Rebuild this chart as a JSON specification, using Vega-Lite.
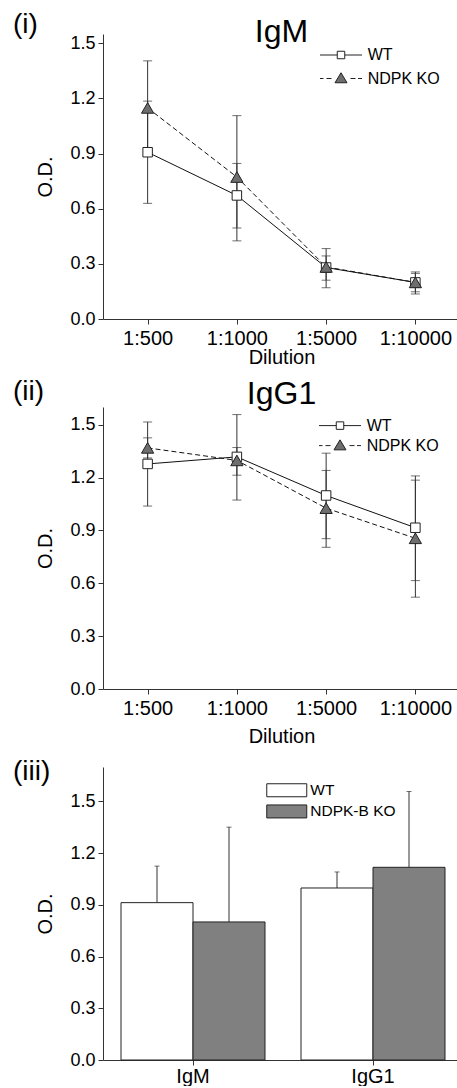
{
  "$schema": "https://vega.github.io/schema/vega-lite/v6.json",
  "padding": {"left": 12, "top": 11, "right": 0, "bottom": 0},
  "spacing": 12,
  "background": "white",
  "resolve": {"scale": {"fill": "independent", "stroke": "independent"}, "legend": {"fill": "independent", "stroke": "independent"}},
  "config": {
    "font": "Liberation Sans",
    "view": {"stroke": null},
    "axis": {"grid": false, "domainColor": "#333", "tickColor": "#333", "labelColor": "black", "titleColor": "black", "labelFont": "Liberation Sans", "titleFont": "Liberation Sans", "titleFontWeight": "normal", "labelFontSize": 18, "titleFontSize": 20},
    "title": {"font": "Liberation Sans", "fontWeight": "normal", "color": "black"},
    "legend": {"labelFont": "Liberation Sans", "labelColor": "black"}
  },
  "datasets": {
    "igm": [
      {"group": "WT", "dilution": "1:500", "od": 0.907, "lo": 0.629, "hi": 1.185},
      {"group": "WT", "dilution": "1:1000", "od": 0.672, "lo": 0.495, "hi": 0.846},
      {"group": "WT", "dilution": "1:5000", "od": 0.28, "lo": 0.211, "hi": 0.343},
      {"group": "WT", "dilution": "1:10000", "od": 0.199, "lo": 0.148, "hi": 0.248},
      {"group": "NDPK KO", "dilution": "1:500", "od": 1.148, "lo": 0.892, "hi": 1.404},
      {"group": "NDPK KO", "dilution": "1:1000", "od": 0.772, "lo": 0.425, "hi": 1.106},
      {"group": "NDPK KO", "dilution": "1:5000", "od": 0.283, "lo": 0.17, "hi": 0.383},
      {"group": "NDPK KO", "dilution": "1:10000", "od": 0.199, "lo": 0.136, "hi": 0.256}
    ],
    "igg1": [
      {"group": "WT", "dilution": "1:500", "od": 1.277, "lo": 1.038, "hi": 1.515},
      {"group": "WT", "dilution": "1:1000", "od": 1.317, "lo": 1.072, "hi": 1.557},
      {"group": "WT", "dilution": "1:5000", "od": 1.098, "lo": 0.853, "hi": 1.338},
      {"group": "WT", "dilution": "1:10000", "od": 0.915, "lo": 0.615, "hi": 1.209},
      {"group": "NDPK KO", "dilution": "1:500", "od": 1.368, "lo": 1.311, "hi": 1.425},
      {"group": "NDPK KO", "dilution": "1:1000", "od": 1.297, "lo": 1.213, "hi": 1.37},
      {"group": "NDPK KO", "dilution": "1:5000", "od": 1.026, "lo": 0.804, "hi": 1.24},
      {"group": "NDPK KO", "dilution": "1:10000", "od": 0.855, "lo": 0.521, "hi": 1.185}
    ],
    "bars": [
      {"isotype": "IgM", "group": "WT", "od": 0.913, "hi": 1.125},
      {"isotype": "IgM", "group": "NDPK-B KO", "od": 0.801, "hi": 1.351},
      {"isotype": "IgG1", "group": "WT", "od": 0.998, "hi": 1.091},
      {"isotype": "IgG1", "group": "NDPK-B KO", "od": 1.118, "hi": 1.558}
    ]
  },
  "vconcat": [
    {
      "spacing": 11,
      "resolve": {"scale": {"fill": "independent", "stroke": "independent"}, "legend": {"fill": "independent", "stroke": "independent"}},
      "vconcat": [
        {
          "title": {"text": "(i)", "fontSize": 28, "anchor": "start", "frame": "bounds", "dx": -23, "offset": -23},
          "vconcat": [
            {
              "width": 357, "height": 285,
              "title": {"text": "IgM", "fontSize": 32, "anchor": "middle", "offset": -15},
              "data": {"name": "igm"},
              "encoding": {
                "x": {"field": "dilution", "type": "ordinal", "sort": ["1:500", "1:1000", "1:5000", "1:10000"], "scale": {"type": "point", "padding": 0.5},
                      "axis": {"title": "Dilution", "labelAngle": 0, "labelFontSize": 20, "titleFontSize": 20, "tickSize": 5, "labelPadding": 4, "titlePadding": -1}}
              },
              "layer": [
                {
                  "mark": {"type": "errorbar", "ticks": {"size": 9, "color": "#333"}, "rule": {"color": "#333"}},
                  "encoding": {
                    "y": {"field": "lo", "type": "quantitative", "scale": {"domain": [0, 1.55], "nice": false, "zero": true},
                          "axis": {"title": "O.D.", "values": [0, 0.15, 0.3, 0.45, 0.6, 0.75, 0.9, 1.05, 1.2, 1.35, 1.5],
                                   "labelExpr": "round(datum.value*100) % 30 == 0 ? format(datum.value, '.1f') : ''",
                                   "tickSize": {"condition": {"test": "round(datum.value*100) % 30 != 0", "value": 3}, "value": 5},
                                   "labelPadding": 3, "titlePadding": 14, "labelOverlap": false}},
                    "y2": {"field": "hi"},
                    "detail": {"field": "group"}
                  }
                },
                {
                  "transform": [{"filter": "datum.group === 'WT'"}],
                  "mark": {"type": "line", "color": "#111", "strokeWidth": 1},
                  "encoding": {"y": {"field": "od", "type": "quantitative"}}
                },
                {
                  "transform": [{"filter": "datum.group === 'NDPK KO'"}],
                  "mark": {"type": "line", "color": "#111", "strokeWidth": 1, "strokeDash": [5, 3]},
                  "encoding": {"y": {"field": "od", "type": "quantitative"}}
                },
                {
                  "transform": [{"filter": "datum.group === 'WT'"}],
                  "mark": {"type": "point", "shape": "square", "size": 90, "filled": true, "stroke": "#222", "strokeWidth": 1, "opacity": 1},
                  "encoding": {
                    "y": {"field": "od", "type": "quantitative"},
                    "fill": {"field": "group", "type": "nominal", "scale": {"domain": ["WT"], "range": ["white"]},
                             "legend": {"title": null, "orient": "none", "legendX": 230, "legendY": 13, "padding": 0, "labelFontSize": 16, "labelOffset": 18.7, "symbolSize": 100,
                                        "symbolType": "M-4.2,0H-0.75M0.75,0H4.2M-0.75,-0.75H0.75V0.75H-0.75Z", "symbolStrokeColor": "#222", "symbolStrokeWidth": 1, "symbolOpacity": 1}}
                  }
                },
                {
                  "transform": [{"filter": "datum.group === 'NDPK KO'"}],
                  "mark": {"type": "point", "shape": "triangle-up", "size": 150, "filled": true, "fill": "#6e6e6e", "strokeWidth": 1, "opacity": 1},
                  "encoding": {
                    "y": {"field": "od", "type": "quantitative"},
                    "stroke": {"field": "group", "type": "nominal", "scale": {"domain": ["NDPK KO"], "range": ["#222"]},
                               "legend": {"title": null, "orient": "none", "legendX": 230, "legendY": 36.5, "padding": 0, "labelFontSize": 16, "labelOffset": 18.7, "symbolSize": 100,
                                          "symbolType": "M-4.2,0H-3.5M-2.9,0H-1.9M1.9,0H2.9M3.4,0H4.2M0,-1.15L1.2,0.85L-1.2,0.85Z", "symbolFillColor": "#6e6e6e", "symbolStrokeWidth": 1, "symbolOpacity": 1}}
                  }
                }
              ]
            }
          ]
        },
        {
          "title": {"text": "(ii)", "fontSize": 28, "anchor": "start", "frame": "bounds", "dx": -23, "offset": -28},
          "vconcat": [
            {
              "width": 357, "height": 282,
              "title": {"text": "IgG1", "fontSize": 32, "anchor": "middle", "offset": -4},
              "data": {"name": "igg1"},
              "encoding": {
                "x": {"field": "dilution", "type": "ordinal", "sort": ["1:500", "1:1000", "1:5000", "1:10000"], "scale": {"type": "point", "padding": 0.5},
                      "axis": {"title": "Dilution", "labelAngle": 0, "labelFontSize": 20, "titleFontSize": 20, "tickSize": 5, "labelPadding": 4, "titlePadding": 8}}
              },
              "layer": [
                {
                  "mark": {"type": "errorbar", "ticks": {"size": 9, "color": "#333"}, "rule": {"color": "#333"}},
                  "encoding": {
                    "y": {"field": "lo", "type": "quantitative", "scale": {"domain": [0, 1.6], "nice": false, "zero": true},
                          "axis": {"title": "O.D.", "values": [0, 0.15, 0.3, 0.45, 0.6, 0.75, 0.9, 1.05, 1.2, 1.35, 1.5],
                                   "labelExpr": "round(datum.value*100) % 30 == 0 ? format(datum.value, '.1f') : ''",
                                   "tickSize": {"condition": {"test": "round(datum.value*100) % 30 != 0", "value": 3}, "value": 5},
                                   "labelPadding": 3, "titlePadding": 14, "labelOverlap": false}},
                    "y2": {"field": "hi"},
                    "detail": {"field": "group"}
                  }
                },
                {
                  "transform": [{"filter": "datum.group === 'WT'"}],
                  "mark": {"type": "line", "color": "#111", "strokeWidth": 1},
                  "encoding": {"y": {"field": "od", "type": "quantitative"}}
                },
                {
                  "transform": [{"filter": "datum.group === 'NDPK KO'"}],
                  "mark": {"type": "line", "color": "#111", "strokeWidth": 1, "strokeDash": [5, 3]},
                  "encoding": {"y": {"field": "od", "type": "quantitative"}}
                },
                {
                  "transform": [{"filter": "datum.group === 'WT'"}],
                  "mark": {"type": "point", "shape": "square", "size": 90, "filled": true, "stroke": "#222", "strokeWidth": 1, "opacity": 1},
                  "encoding": {
                    "y": {"field": "od", "type": "quantitative"},
                    "fill": {"field": "group", "type": "nominal", "scale": {"domain": ["WT"], "range": ["white"]},
                             "legend": {"title": null, "orient": "none", "legendX": 229, "legendY": 10.6, "padding": 0, "labelFontSize": 16, "labelOffset": 18.7, "symbolSize": 100,
                                        "symbolType": "M-4.2,0H-0.75M0.75,0H4.2M-0.75,-0.75H0.75V0.75H-0.75Z", "symbolStrokeColor": "#222", "symbolStrokeWidth": 1, "symbolOpacity": 1}}
                  }
                },
                {
                  "transform": [{"filter": "datum.group === 'NDPK KO'"}],
                  "mark": {"type": "point", "shape": "triangle-up", "size": 150, "filled": true, "fill": "#6e6e6e", "strokeWidth": 1, "opacity": 1},
                  "encoding": {
                    "y": {"field": "od", "type": "quantitative"},
                    "stroke": {"field": "group", "type": "nominal", "scale": {"domain": ["NDPK KO"], "range": ["#222"]},
                               "legend": {"title": null, "orient": "none", "legendX": 229, "legendY": 30.6, "padding": 0, "labelFontSize": 16, "labelOffset": 18.7, "symbolSize": 100,
                                          "symbolType": "M-4.2,0H-3.5M-2.9,0H-1.9M1.9,0H2.9M3.4,0H4.2M0,-1.15L1.2,0.85L-1.2,0.85Z", "symbolFillColor": "#6e6e6e", "symbolStrokeWidth": 1, "symbolOpacity": 1}}
                  }
                }
              ]
            }
          ]
        }
      ]
    },
    {
      "title": {"text": "(iii)", "fontSize": 28, "anchor": "start", "frame": "bounds", "dx": -23, "offset": -19},
      "vconcat": [
        {
          "width": 360, "height": 293,
          "data": {"name": "bars"},
          "encoding": {
            "x": {"field": "isotype", "type": "nominal", "sort": ["IgM", "IgG1"], "scale": {"paddingInner": 0.2, "paddingOuter": 0.1},
                  "axis": {"title": null, "labelAngle": 0, "labelFontSize": 20, "tickSize": 5, "labelPadding": 1}},
            "xOffset": {"field": "group", "type": "nominal", "sort": ["WT", "NDPK-B KO"], "scale": {"paddingInner": 0, "paddingOuter": 0}}
          },
          "layer": [
            {
              "mark": {"type": "rule", "color": "#333", "strokeWidth": 1},
              "encoding": {
                "y": {"field": "od", "type": "quantitative", "scale": {"domain": [0, 1.7], "nice": false, "zero": true},
                      "axis": {"title": "O.D.", "values": [0, 0.15, 0.3, 0.45, 0.6, 0.75, 0.9, 1.05, 1.2, 1.35, 1.5, 1.65],
                               "labelExpr": "round(datum.value*100) % 30 == 0 ? format(datum.value, '.1f') : ''",
                               "tickSize": {"condition": {"test": "round(datum.value*100) % 30 != 0", "value": 3}, "value": 5},
                               "labelPadding": 3, "titlePadding": 14, "labelOverlap": false}},
                "y2": {"field": "hi"}
              }
            },
            {
              "mark": {"type": "tick", "color": "#333", "thickness": 1, "size": 5, "orient": "horizontal"},
              "encoding": {"y": {"field": "hi", "type": "quantitative"}}
            },
            {
              "mark": {"type": "bar", "stroke": "#222", "strokeWidth": 1, "opacity": 1},
              "encoding": {
                "y": {"field": "od", "type": "quantitative"},
                "fill": {"field": "group", "type": "nominal", "scale": {"domain": ["WT", "NDPK-B KO"], "range": ["white", "#808080"]},
                         "legend": {"title": null, "orient": "none", "legendX": 176, "legendY": 15.5, "padding": 0, "rowPadding": 3.2, "labelFontSize": 15.5, "labelOffset": 15.8,
                                    "symbolType": "M-4,-1.3H4V1.3H-4Z", "symbolSize": 100, "symbolStrokeColor": "#222", "symbolStrokeWidth": 1, "symbolOpacity": 1}}
              }
            }
          ]
        }
      ]
    }
  ]
}
